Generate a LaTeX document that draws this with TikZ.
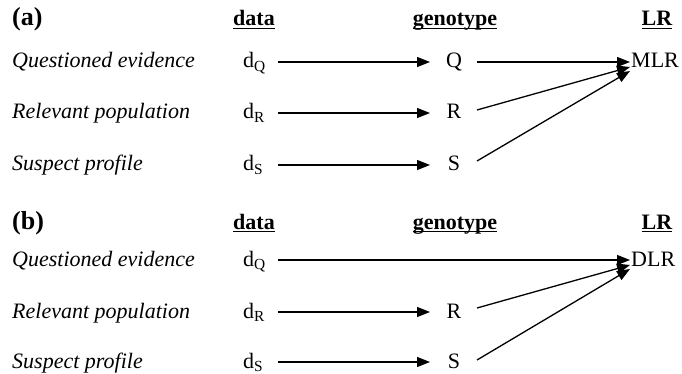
\documentclass[tikz,border=0pt]{standalone}
\usepackage{fontspec}
\setmainfont{Liberation Serif}
\usetikzlibrary{arrows.meta,calc}

\begin{document}
\begin{tikzpicture}[x=1pt,y=-1pt,
  txt/.style={inner sep=0pt, font=\fontsize{22}{26}\selectfont, text height=15pt, text depth=3pt},
  lab/.style={txt, anchor=west, font=\fontsize{22}{26}\selectfont\itshape},
  hdr/.style={inner sep=0pt, anchor=base, font=\fontsize{22}{26}\selectfont\bfseries},
  panel/.style={inner sep=0pt, anchor=base west, font=\fontsize{26}{30}\selectfont\bfseries},
  arr/.style={line width=1.3pt, -{Triangle[length=13pt,width=10pt]}},
  uline/.style={line width=1.4pt}]

\useasboundingbox (0,0) rectangle (682,374);

% ---------- panel (a) ----------
\node[panel] (pa) at (12,26) {(a)};
\node[hdr] (ha1) at (254,26) {data};
\node[hdr] (ha2) at (455,26) {genotype};
\node[hdr] (ha3) at (657,26) {LR};
\foreach \h in {ha1,ha2,ha3}
  \draw[uline] ([yshift=-2.5pt]\h.base west) -- ([yshift=-2.5pt]\h.base east);

\node[lab] (qa) at (12,62)  {Questioned evidence};
\node[lab] (ra) at (12,113) {Relevant population};
\node[lab] (sa) at (12,165) {Suspect profile};

\node[txt, anchor=west] (dqa) at (243,62)  {d\textsubscript{Q}};
\node[txt, anchor=west] (dra) at (243,113) {d\textsubscript{R}};
\node[txt, anchor=west] (dsa) at (243,165) {d\textsubscript{S}};

\node[txt] (gqa) at (454,62)  {Q};
\node[txt] (gra) at (454,113) {R};
\node[txt] (gsa) at (454,165) {S};

\node[txt, anchor=west] (mlr) at (631,62) {MLR};

\draw[arr] ($(dqa.west)+(35,0)$) -- ($(gqa.center)+(-24,0)$);
\draw[arr] ($(dra.west)+(35,0)$) -- ($(gra.center)+(-24,0)$);
\draw[arr] ($(dsa.west)+(35,0)$) -- ($(gsa.center)+(-24,0)$);

\draw[arr] ($(gqa.center)+(23,0)$)  -- ($(mlr.west)+(-1,0)$);
\draw[arr] ($(gra.center)+(23,-3)$) -- ($(mlr.west)+(-1,5)$);
\draw[arr] ($(gsa.center)+(23,-4)$) -- ($(mlr.west)+(-1,9)$);

% ---------- panel (b) ----------
\node[panel] (pb) at (12,229) {(b)};
\node[hdr] (hb1) at (254,229) {data};
\node[hdr] (hb2) at (455,229) {genotype};
\node[hdr] (hb3) at (657,229) {LR};
\foreach \h in {hb1,hb2,hb3}
  \draw[uline] ([yshift=-2.5pt]\h.base west) -- ([yshift=-2.5pt]\h.base east);

\node[lab] (qb) at (12,260) {Questioned evidence};
\node[lab] (rb) at (12,312) {Relevant population};
\node[lab] (sb) at (12,362) {Suspect profile};

\node[txt, anchor=west] (dqb) at (243,260) {d\textsubscript{Q}};
\node[txt, anchor=west] (drb) at (243,312) {d\textsubscript{R}};
\node[txt, anchor=west] (dsb) at (243,362) {d\textsubscript{S}};

\node[txt] (grb) at (454,312) {R};
\node[txt] (gsb) at (454,362) {S};

\node[txt, anchor=west] (dlr) at (631,260) {DLR};

\draw[arr] ($(dqb.west)+(35,0)$) -- ($(dlr.west)+(-1,0)$);
\draw[arr] ($(drb.west)+(35,0)$) -- ($(grb.center)+(-24,0)$);
\draw[arr] ($(dsb.west)+(35,0)$) -- ($(gsb.center)+(-24,0)$);

\draw[arr] ($(grb.center)+(23,-4)$) -- ($(dlr.west)+(-1,5)$);
\draw[arr] ($(gsb.center)+(23,-2)$) -- ($(dlr.west)+(-1,9)$);
\end{tikzpicture}
\end{document}
